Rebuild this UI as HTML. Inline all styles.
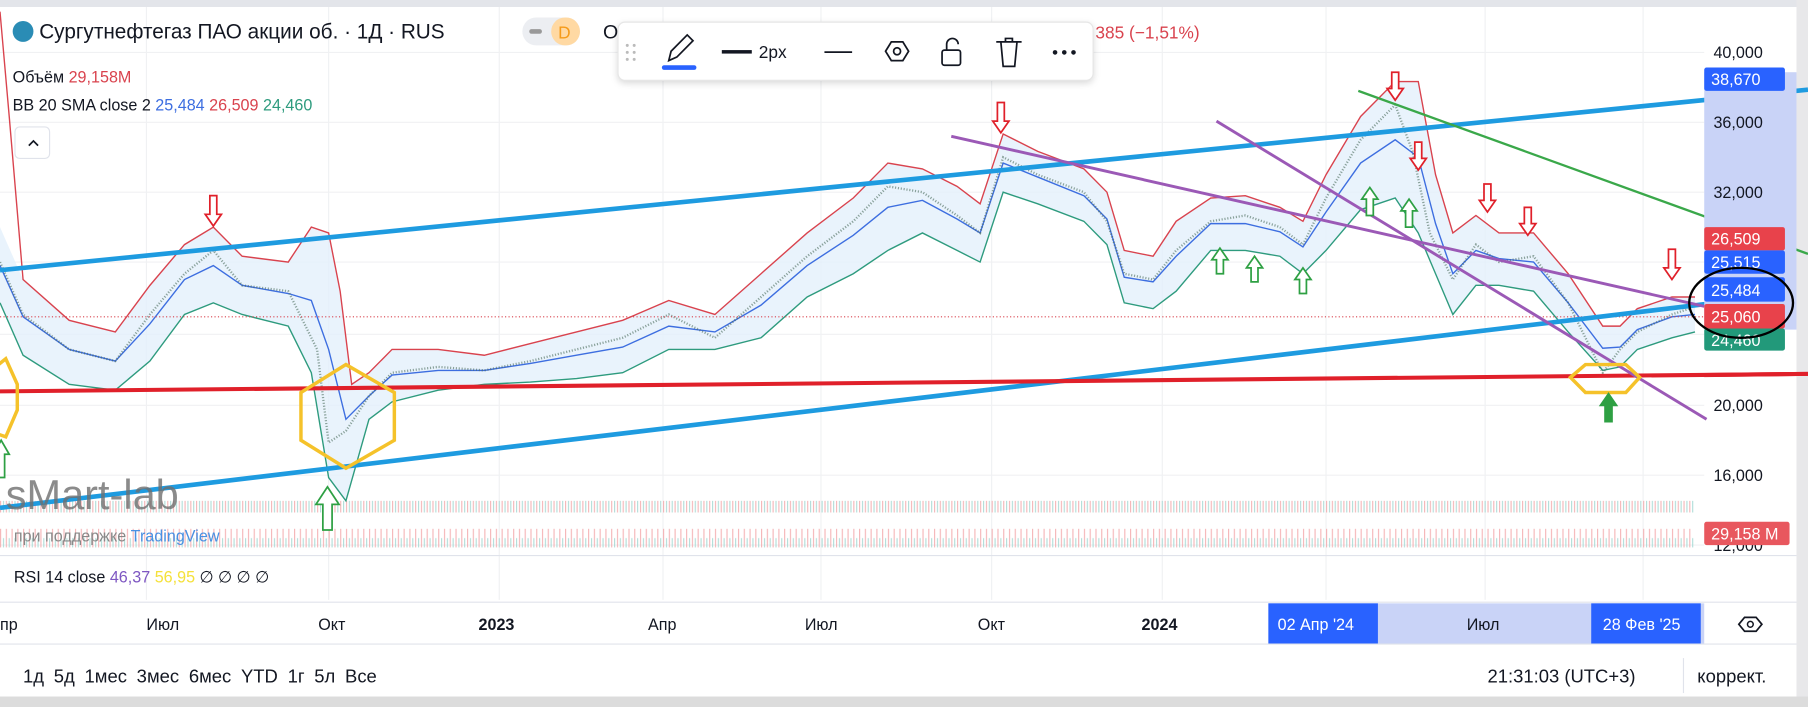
<!DOCTYPE html>
<html><head><meta charset="utf-8"><style>
html,body{margin:0;padding:0;background:#fff;overflow:hidden}
svg{display:block}
text{font-family:"Liberation Sans","DejaVu Sans",sans-serif}
</style></head><body>
<svg width="1808" height="707" viewBox="0 0 1568 607" preserveAspectRatio="none" xmlns="http://www.w3.org/2000/svg">
<defs>
<pattern id="vol" width="5" height="40" patternUnits="userSpaceOnUse">
<rect x="0" y="14" width="1" height="26" fill="#f2a5a8"/><rect x="2.5" y="22" width="1" height="18" fill="#9fd6d0"/>
</pattern>
</defs>
<rect width="1568" height="607" fill="#fff"/>
<rect width="1568" height="6" fill="#e3e5ea"/>
<rect x="1558" y="0" width="10" height="607" fill="#e8e8ea"/>
<rect x="0" y="598" width="1568" height="9" fill="#dcdcdc"/>
<g stroke="#f0f1f3" stroke-width="1">
<line x1="127" y1="6" x2="127" y2="515"/><line x1="285" y1="6" x2="285" y2="515"/><line x1="433" y1="6" x2="433" y2="515"/>
<line x1="575" y1="6" x2="575" y2="515"/><line x1="712" y1="6" x2="712" y2="515"/><line x1="860" y1="6" x2="860" y2="515"/>
<line x1="1008" y1="6" x2="1008" y2="515"/><line x1="1150" y1="6" x2="1150" y2="515"/><line x1="1288" y1="6" x2="1288" y2="515"/><line x1="1425" y1="6" x2="1425" y2="515"/>
<line x1="0" y1="45" x2="1478" y2="45"/><line x1="0" y1="105" x2="1478" y2="105"/><line x1="0" y1="165" x2="1478" y2="165"/>
<line x1="0" y1="225" x2="1478" y2="225"/><line x1="0" y1="287" x2="1478" y2="287"/><line x1="0" y1="348" x2="1478" y2="348"/>
<line x1="0" y1="408" x2="1478" y2="408"/><line x1="0" y1="468" x2="1478" y2="468"/>
</g>
<rect x="0" y="430" width="1470" height="40" fill="url(#vol)" opacity="0.8"/>
<path d="M0,195 L20,240 60,275 100,285 130,245 160,210 185,195 210,220 250,225 270,195 285,200 295,250 305,330 320,320 340,300 380,300 420,305 460,295 500,285 540,275 580,258 620,270 660,235 700,200 740,170 770,140 800,145 830,160 850,175 870,115 900,130 940,145 960,165 975,215 1000,220 1020,190 1050,170 1080,168 1110,178 1130,190 1150,150 1180,100 1210,70 1230,70 1245,150 1260,200 1280,185 1300,200 1330,200 1360,235 1390,280 1405,280 1420,265 1450,255 1470,255
L1470,285 1450,290 1420,300 1405,315 1390,318 1360,285 1330,250 1300,245 1280,245 1260,270 1245,235 1230,200 1210,170 1180,180 1150,215 1130,235 1110,220 1080,215 1050,215 1020,250 1000,265 975,260 960,210 940,190 900,175 870,165 850,225 830,215 800,200 770,215 740,235 700,255 660,290 620,300 580,300 540,320 500,325 460,328 420,330 380,335 340,345 320,360 300,430 285,410 270,320 250,280 210,270 185,260 160,270 130,310 100,335 60,330 20,305 0,260Z" fill="#e3f0fb" opacity="0.8"/>
<polyline fill="none" stroke="#d9434e" stroke-width="1.2" points="0,10 8,100 20,240 60,275 100,285 130,245 160,210 185,195 210,220 250,225 270,195 285,200 295,250 305,330 320,320 340,300 380,300 420,305 460,295 500,285 540,275 580,258 620,270 660,235 700,200 740,170 770,140 800,145 830,160 850,175 870,115 900,130 940,145 960,165 975,215 1000,220 1020,190 1050,170 1080,168 1110,178 1130,190 1150,150 1180,100 1210,70 1230,70 1245,150 1260,200 1280,185 1300,200 1330,200 1360,235 1390,280 1405,280 1420,265 1450,255 1470,255"/>
<polyline fill="none" stroke="#2e9b7e" stroke-width="1.2" points="0,260 20,305 60,330 100,335 130,310 160,270 185,260 210,270 250,280 270,320 285,410 300,430 320,360 340,345 380,335 420,330 460,328 500,325 540,320 580,300 620,300 660,290 700,255 740,235 770,215 800,200 830,215 850,225 870,165 900,175 940,190 960,210 975,260 1000,265 1020,250 1050,215 1080,215 1110,220 1130,235 1150,215 1180,180 1210,170 1230,200 1245,235 1260,270 1280,245 1300,245 1330,250 1360,285 1390,318 1405,315 1420,300 1450,290 1470,285"/>
<polyline fill="none" stroke="#3d6ee0" stroke-width="1.2" points="0,228 20,272 60,300 100,310 130,278 160,240 185,228 210,245 250,252 270,258 285,300 300,360 320,340 340,322 380,318 420,318 460,312 500,305 540,298 580,280 620,285 660,262 700,228 740,202 770,178 800,172 830,188 850,200 870,140 900,152 940,168 960,188 975,238 1000,242 1020,220 1050,192 1080,192 1110,199 1130,212 1150,182 1180,140 1210,120 1230,135 1245,192 1260,235 1280,215 1300,222 1330,225 1360,260 1390,299 1405,298 1420,283 1450,272 1470,270"/>
<polyline fill="none" stroke="#4a6a5a" stroke-width="2" opacity="0.6" stroke-dasharray="1 1.5" points="0,225 20,270 60,300 100,310 130,270 160,235 185,215 210,245 250,250 275,300 285,380 300,370 320,340 340,320 380,315 420,318 460,310 500,300 540,290 580,270 620,290 660,255 700,220 740,190 770,160 800,165 830,185 850,200 870,135 900,150 940,165 960,190 975,235 1000,240 1020,215 1050,190 1080,185 1110,195 1130,210 1150,170 1180,120 1210,90 1225,130 1240,200 1260,240 1280,210 1300,225 1330,220 1360,260 1390,320 1405,300 1420,285 1450,270 1465,265"/>
<line x1="0" y1="272" x2="1478" y2="272" stroke="#d9434e" stroke-width="1" stroke-dasharray="1 2"/>
<line x1="0" y1="232" x2="1568" y2="77" stroke="#1e9be0" stroke-width="4"/>
<line x1="0" y1="436" x2="1480" y2="261" stroke="#1e9be0" stroke-width="4"/>
<line x1="0" y1="336" x2="1568" y2="321" stroke="#e0202a" stroke-width="3.5"/>
<line x1="825" y1="117" x2="1478" y2="263" stroke="#9b59b6" stroke-width="2.5"/>
<line x1="1055" y1="104" x2="1480" y2="360" stroke="#9b59b6" stroke-width="2.5"/>
<line x1="1178" y1="78" x2="1568" y2="218" stroke="#3aa84a" stroke-width="2"/>
<g fill="none" stroke="#f5c22a" stroke-width="3">
<polygon points="-10,320 5,308 15,330 15,352 5,375 -10,370"/>
<polygon points="300,313 342,337 342,378 300,402 261,378 261,337"/>
<polygon points="1362,324 1375,313 1410,313 1422,324 1410,337 1375,337"/>
</g>
<g fill="#fff" stroke="#e0202a" stroke-width="1.5">
<path d="M182,168 h6 v16 h4 l-7,10 -7,-10 h4z"/>
<path d="M865,88 h6 v16 h4 l-7,10 -7,-10 h4z"/>
<path d="M1207,62 h6 v14 h4 l-7,10 -7,-10 h4z"/>
<path d="M1227,122 h6 v14 h4 l-7,10 -7,-10 h4z"/>
<path d="M1287,158 h6 v14 h4 l-7,10 -7,-10 h4z"/>
<path d="M1322,178 h6 v14 h4 l-7,10 -7,-10 h4z"/>
<path d="M1447,214 h6 v16 h4 l-7,10 -7,-10 h4z"/>
</g>
<g fill="#fff" stroke="#2ea043" stroke-width="1.5">
<path d="M280,455 h8 v-22 h6 l-10,-15 -10,15 h6z"/>
<path d="M1055,235 h6 v-12 h4 l-7,-10 -7,10 h4z"/>
<path d="M1085,242 h6 v-12 h4 l-7,-10 -7,10 h4z"/>
<path d="M1127,252 h6 v-12 h4 l-7,-10 -7,10 h4z"/>
<path d="M1185,185 h6 v-14 h4 l-7,-10 -7,10 h4z"/>
<path d="M1219,195 h6 v-14 h4 l-7,-10 -7,10 h4z"/>
<path d="M1392,362 h6 v-14 h4 l-7,-10 -7,10 h4z" fill="#2ea043"/>
<path d="M-2,410 h6 v-20 h4 l-7,-12 -7,12 h4z"/>
</g>
<text x="5" y="437" font-size="36" fill="#6f6f6f" opacity="0.8">sMart-lab</text>
<text x="12" y="465" font-size="14" fill="#888">при поддержке <tspan fill="#4a90e2">TradingView</tspan></text>
<circle cx="20" cy="27" r="9" fill="#2a8cb5"/>
<text x="34" y="33" font-size="18" fill="#131722">Сургутнефтегаз ПАО акции об. · 1Д · RUS</text>
<rect x="453" y="15" width="50" height="24" rx="12" fill="#eceef2"/><rect x="478" y="15" width="25" height="24" rx="12" fill="#ffd9a3"/>
<rect x="459" y="25" width="11" height="4" rx="2" fill="#999"/>
<text x="484" y="33" font-size="15" fill="#f59b1a">D</text>
<text x="523" y="33" font-size="17" fill="#131722">О</text>
<text x="950" y="33" font-size="15" fill="#d9434e">385 (−1,51%)</text>
<text x="11" y="71" font-size="14" fill="#131722">Объём <tspan fill="#d9434e">29,158M</tspan></text>
<text x="11" y="95" font-size="14" fill="#131722">BB 20 SMA close 2 <tspan fill="#3d6ee0">25,484</tspan> <tspan fill="#d9434e">26,509</tspan> <tspan fill="#2e9b7e">24,460</tspan></text>
<rect x="13" y="109" width="30" height="27" rx="4" fill="#fff" stroke="#e0e3eb"/>
<path d="M25,125 l4,-4 4,4" fill="none" stroke="#131722" stroke-width="1.5"/>
<rect x="536" y="19" width="412" height="50" rx="6" fill="#fff" stroke="#e6e6e6" style="filter:drop-shadow(0 2px 3px rgba(0,0,0,.15))"/>
<g fill="#bbb"><circle cx="544" cy="39" r="1.3"/><circle cx="550" cy="39" r="1.3"/><circle cx="544" cy="45" r="1.3"/><circle cx="550" cy="45" r="1.3"/><circle cx="544" cy="51" r="1.3"/><circle cx="550" cy="51" r="1.3"/></g>
<path d="M580,52 l2,-8 14,-14 5,5 -14,14z" fill="none" stroke="#131722" stroke-width="1.5"/>
<rect x="574" y="56" width="30" height="4" rx="2" fill="#2962ff"/>
<rect x="626" y="43" width="26" height="3" fill="#131722"/>
<text x="658" y="50" font-size="15" fill="#131722">2px</text>
<rect x="715" y="44" width="24" height="1.5" fill="#131722"/>
<polygon points="768,44 773,36 783,36 788,44 783,52 773,52" fill="none" stroke="#131722" stroke-width="1.5"/>
<circle cx="778" cy="44" r="3" fill="none" stroke="#131722" stroke-width="1.5"/>
<rect x="817" y="43" width="16" height="13" rx="2" fill="none" stroke="#131722" stroke-width="1.5"/>
<path d="M821,43 v-5 a5,5 0 0 1 10,0" fill="none" stroke="#131722" stroke-width="1.5"/>
<path d="M864,36 h22 M868,36 l2,21 h10 l2,-21 M872,36 v-3 h6 v3" fill="none" stroke="#131722" stroke-width="1.5"/>
<g fill="#131722"><circle cx="915" cy="45" r="2"/><circle cx="923" cy="45" r="2"/><circle cx="931" cy="45" r="2"/></g>
<rect x="1478" y="62" width="80" height="221" fill="#c9d3f7"/>
<g font-size="14" fill="#131722">
<text x="1486" y="50">40,000</text><text x="1486" y="110">36,000</text><text x="1486" y="170">32,000</text>
<text x="1486" y="353">20,000</text><text x="1486" y="413">16,000</text><text x="1486" y="473">12,000</text>
</g>
<g font-size="14" fill="#fff">
<rect x="1478" y="58" width="70" height="20" rx="2" fill="#2962ff"/><text x="1484" y="73">38,670</text>
<rect x="1478" y="195" width="70" height="20" rx="2" fill="#e8424b"/><text x="1484" y="210">26,509</text>
<rect x="1478" y="215" width="70" height="20" rx="2" fill="#2962ff"/><text x="1484" y="230">25,515</text>
<rect x="1478" y="238" width="70" height="21" rx="2" fill="#2962ff"/><text x="1484" y="254">25,484</text>
<rect x="1478" y="261" width="70" height="21" rx="2" fill="#e8424b"/><text x="1484" y="277">25,060</text>
<rect x="1478" y="282" width="70" height="19" rx="2" fill="#22997a"/><text x="1484" y="297">24,460</text>
<rect x="1478" y="448" width="74" height="20" rx="2" fill="#e8575e"/><text x="1484" y="463">29,158 M</text>
</g>
<line x1="1478" y1="77" x2="1568" y2="77" stroke="#1e9be0" stroke-width="0"/>
<line x1="1478" y1="69" x2="1568" y2="77" stroke="#1e9be0" stroke-width="0"/>
<line x1="1478" y1="83" x2="1568" y2="77" stroke="none"/>
<line x1="1548" y1="70" x2="1568" y2="77" stroke="none"/>
<line x1="1478" y1="322" x2="1568" y2="321" stroke="#e0202a" stroke-width="3.5"/>
<ellipse cx="1510" cy="260" rx="45" ry="30" fill="none" stroke="#000" stroke-width="2"/>
<line x1="0" y1="477" x2="1558" y2="477" stroke="#e0e3eb"/>
<text x="12" y="500" font-size="14" fill="#131722">RSI 14 close <tspan fill="#7e57c2">46,37</tspan> <tspan fill="#f5e13a">56,95</tspan> ∅ ∅ ∅ ∅</text>
<line x1="0" y1="517" x2="1558" y2="517" stroke="#e0e3eb"/>
<rect x="1100" y="518" width="378" height="35" fill="#c9d3f7"/>
<rect x="1100" y="518" width="95" height="35" fill="#2962ff"/>
<rect x="1380" y="518" width="95" height="35" fill="#2962ff"/>
<g font-size="14" fill="#131722">
<text x="0" y="541">пр</text><text x="127" y="541">Июл</text><text x="276" y="541">Окт</text>
<text x="415" y="541" font-weight="bold">2023</text><text x="562" y="541">Апр</text><text x="698" y="541">Июл</text>
<text x="848" y="541">Окт</text><text x="990" y="541" font-weight="bold">2024</text><text x="1272" y="541">Июл</text>
</g>
<text x="1108" y="541" font-size="14" fill="#fff">02 Апр '24</text>
<text x="1390" y="541" font-size="14" fill="#fff">28 Фев '25</text>
<polygon points="1508,536 1513,530 1523,530 1528,536 1523,542 1513,542" fill="none" stroke="#131722" stroke-width="1.5"/>
<circle cx="1518" cy="536" r="2.5" fill="none" stroke="#131722" stroke-width="1.3"/>
<line x1="0" y1="553" x2="1558" y2="553" stroke="#e0e3eb"/>
<text x="20" y="586" font-size="16" fill="#131722" word-spacing="4">1д  5д  1мес  3мес  6мес  YTD  1г  5л  Все</text>
<text x="1290" y="586" font-size="16" fill="#131722">21:31:03 (UTC+3)</text>
<line x1="1460" y1="565" x2="1460" y2="595" stroke="#e0e3eb"/>
<text x="1472" y="586" font-size="16" fill="#131722">коррект.</text>
</svg>
</body></html>
